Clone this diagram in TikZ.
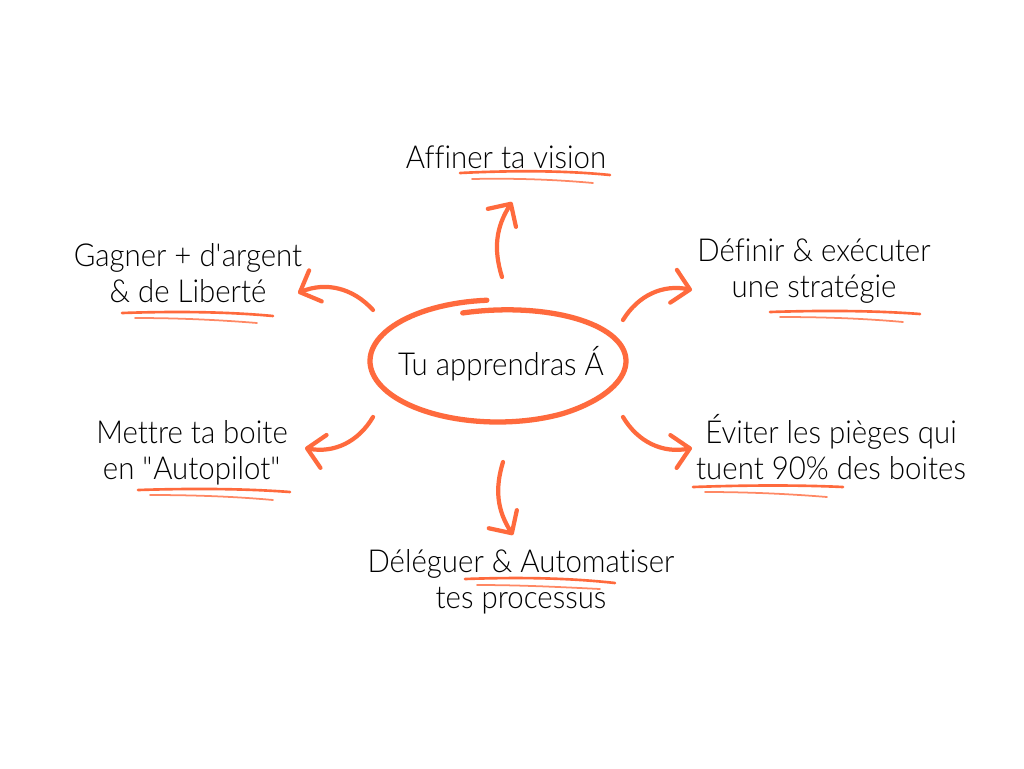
\documentclass[tikz,border=0pt]{standalone}
\usepackage{fontspec}
\setmainfont{Lato Light}[FakeStretch=0.93,Ligatures={TeX,NoCommon}]
\usetikzlibrary{arrows.meta}
\definecolor{brush}{RGB}{255,106,61}

\begin{document}
\begin{tikzpicture}[x=0.02cm,y=-0.02cm,
        txt/.style={align=center,font=\fontsize{18}{20.5}\selectfont},
        ring/.style={draw=brush,line width=3pt,line cap=round},
        arr/.style={draw=brush,line width=2.4pt,line cap=round,-{Straight Barb[length=9.5pt,width=19pt,round]}},
        ink/.style={draw=brush,line width=1.5pt,line cap=round},
        faint/.style={draw=brush!80,line width=1pt,line cap=round}]
        \useasboundingbox[fill=white] (0,0) rectangle (1024,768);
        % centre
        \draw[ring] plot[domain=95:466,samples=120]
            ({498+128*cos(\x)},{361-(61-11*max(0,(\x-300)/166))*sin(\x)});
        \node[txt] (hub) at (501,364) {Tu apprendras Á};
        % branches
        \node[txt] (vision) at (506,157) {Affiner ta vision};
        \node[txt] (argent) at (188,273) {Gagner + d\textquotesingle argent\\\& de Liberté};
        \node[txt] (strat) at (814,271) {Définir \& exécuter\\une stratégie};
        \node[txt] (pilot) at (192,453) {Mettre ta boite\\en \textquotedbl Autopilot\textquotedbl};
        \node[txt] (pieges) at (831,447) {Éviter les pièges qui\\tuent 90\% des boites};
        \node[txt] (deleg) at (521,582) {Déléguer \& Automatiser\\tes processus};
        % arrow ends
        \coordinate (n0) at (502,277); \coordinate (n1) at (512,202);
        \coordinate (nw0) at (373,310); \coordinate (nw1) at (298,293);
        \coordinate (sw0) at (373,417); \coordinate (sw1) at (305,448);
        \coordinate (ne0) at (623,320); \coordinate (ne1) at (692,290);
        \coordinate (se0) at (623,417); \coordinate (se1) at (692,448);
        \coordinate (s0) at (503,462); \coordinate (s1) at (513,535);
        \draw[arr] (n0) to[bend left=25] (n1);
        \draw[arr] (nw0) to[bend right=35] (nw1);
        \draw[arr] (sw0) to[bend left=35] (sw1);
        \draw[arr] (ne0) to[bend left=35] (ne1);
        \draw[arr] (se0) to[bend right=35] (se1);
        \draw[arr] (s0) to[bend right=25] (s1);
        % underlines
        \draw[ink] (460,173) .. controls (520,170) and (570,171) .. (610,175);
        \draw[faint] (472,179) .. controls (520,178) and (560,180) .. (593,183);
        \draw[ink] (122,313) .. controls (180,311) and (230,312) .. (273,316);
        \draw[faint] (135,318) .. controls (180,318) and (220,320) .. (257,323);
        \draw[ink] (770,312) .. controls (830,310) and (880,311) .. (920,314);
        \draw[faint] (780,317) .. controls (830,317) and (870,319) .. (903,322);
        \draw[ink] (138,490) .. controls (200,488) and (250,489) .. (290,492);
        \draw[faint] (150,495) .. controls (200,495) and (240,497) .. (273,500);
        \draw[ink] (693,487) .. controls (750,485) and (800,485) .. (843,487);
        \draw[faint] (705,492) .. controls (750,492) and (790,494) .. (827,497);
        \draw[ink] (465,579) .. controls (520,577) and (570,578) .. (615,583);
        \draw[faint] (477,585) .. controls (520,585) and (560,587) .. (600,589);
\end{tikzpicture}
\end{document}
